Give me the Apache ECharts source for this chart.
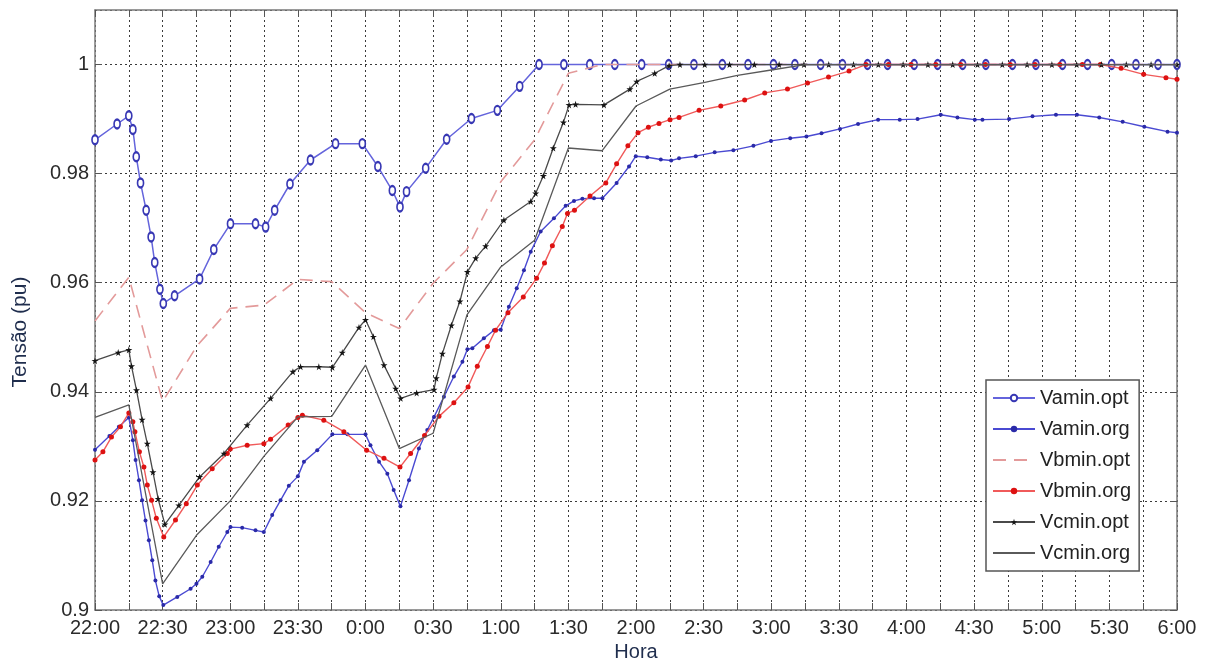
<!DOCTYPE html>
<html>
<head>
<meta charset="utf-8">
<script src="https://cdn.jsdelivr.net/npm/echarts@6/dist/echarts.min.js"></script>
<style>
html,body{margin:0;padding:0;background:#fff;}
#chart{width:1208px;height:658px;}
</style>
</head>
<body>
<div id="chart"></div>
<script>
// time in minutes after 22:00, value in pu
const xTickLabels = ['22:00','22:30','23:00','23:30','0:00','0:30','1:00','1:30','2:00','2:30','3:00','3:30','4:00','4:30','5:00','5:30','6:00'];
const seriesNames = ['Vamin.opt','Vamin.org','Vbmin.opt','Vbmin.org','Vcmin.opt','Vcmin.org'];

const vaminOpt = [[0,0.9862],[9.8,0.9891],[15,0.9906],[16.8,0.9881],[18.3,0.9831],[20.2,0.9783],[22.7,0.9733],[24.9,0.9684],[26.5,0.9637],[28.8,0.9588],[30.3,0.9562],[35.3,0.9576],[46.4,0.9607],[52.7,0.9661],[60.1,0.9708],[71.2,0.9708],[75.7,0.9702],[79.7,0.9733],[86.5,0.9781],[95.6,0.9825],[106.7,0.9855],[118.6,0.9855],[125.5,0.9813],[131.9,0.9769],[135.3,0.9739],[138.2,0.9767],[146.7,0.981],[156,0.9863],[167,0.9901],[178.5,0.9916],[188.4,0.996],[197,1.0],[208,1.0],[219.5,1.0],[230.6,1.0],[242.5,1.0],[254.5,1.0],[265.7,1.0],[278.3,1.0],[289.7,1.0],[301,1.0],[310.5,1.0],[321.9,1.0],[331.6,1.0],[342.7,1.0],[351.6,1.0],[363.4,1.0],[373.8,1.0],[384.9,1.0],[395.2,1.0],[407,1.0],[417.4,1.0],[429.2,1.0],[440.3,1.0],[451,1.0],[461.8,1.0],[471.6,1.0],[480,1.0]];

const vaminOrg = [[0,0.9294],[6.4,0.9319],[10.6,0.9336],[15,0.9353],[16.8,0.9311],[18,0.9275],[19.5,0.9238],[20.9,0.9201],[22.4,0.9164],[23.9,0.9128],[25.4,0.9091],[26.8,0.9054],[28.5,0.9025],[30.3,0.9009],[36.5,0.9024],[42.4,0.9039],[45,0.9048],[47.6,0.9061],[51.3,0.9088],[54.9,0.9116],[58.7,0.9143],[60.1,0.9152],[65.3,0.9151],[71.2,0.9146],[74.9,0.9143],[78.6,0.9174],[82.3,0.9201],[86,0.9228],[90,0.9245],[92.7,0.9272],[98.6,0.9293],[105.3,0.9322],[112,0.9322],[120,0.9322],[122.2,0.9302],[126,0.9272],[129.7,0.925],[132.5,0.922],[135.5,0.919],[139.3,0.9238],[143.7,0.9296],[147.4,0.933],[150.4,0.9354],[154.8,0.9391],[159.2,0.9428],[163,0.9455],[165.2,0.9478],[167.4,0.948],[172.5,0.9498],[177,0.9513],[180,0.9514],[183.6,0.9556],[187.1,0.959],[190.3,0.9623],[193.3,0.9657],[197.7,0.9694],[203.6,0.9718],[208.8,0.9741],[212.5,0.975],[216.2,0.9754],[221.4,0.9755],[225.1,0.9755],[231.4,0.9783],[236.9,0.9813],[239.9,0.9832],[245,0.983],[251,0.9826],[255.6,0.9824],[259.1,0.9828],[266.5,0.9832],[274.9,0.9839],[283.2,0.9843],[292.1,0.9851],[299.9,0.986],[308.4,0.9865],[315.6,0.9868],[322.3,0.9874],[330.5,0.9882],[338.5,0.9891],[347.4,0.9899],[357,0.9899],[364.9,0.99],[375.2,0.9908],[382.6,0.9903],[390.3,0.9899],[393.7,0.9899],[405.5,0.99],[415.9,0.9905],[426.3,0.9908],[435.6,0.9908],[445.5,0.9903],[455.9,0.9895],[465.5,0.9886],[475.8,0.9877],[480,0.9875]];

const vbminOpt = [[0,0.953],[15,0.961],[30,0.9382],[45,0.9483],[60,0.9553],[75,0.9559],[90,0.9606],[105,0.9602],[120,0.9545],[135,0.9516],[150,0.9599],[165,0.9661],[180,0.9785],[195,0.9862],[210,0.9984],[225,1.0],[480,1.0]];

const vbminOrg = [[0,0.9275],[3.5,0.929],[7.3,0.9317],[11.3,0.9336],[15,0.9361],[16.8,0.9345],[17.7,0.9327],[19.7,0.929],[21.7,0.9262],[23.2,0.9229],[25.1,0.9201],[27.2,0.9168],[30.5,0.9134],[35.7,0.9165],[40.5,0.9195],[45.4,0.9229],[52,0.9259],[58.7,0.9287],[60,0.9295],[67.5,0.9302],[74.9,0.9305],[77.9,0.9313],[85.7,0.9339],[90,0.9353],[92,0.9357],[101.5,0.9348],[110.4,0.9327],[120.5,0.9293],[128.2,0.9278],[135.3,0.9262],[140,0.9287],[146.2,0.932],[152.6,0.9355],[159.2,0.938],[165.5,0.9409],[169.6,0.9447],[174.1,0.9483],[177.7,0.9513],[183.2,0.9545],[190,0.9574],[195.9,0.9608],[199.4,0.9636],[202.9,0.9668],[207.3,0.9703],[209.6,0.9727],[212.7,0.9733],[219.6,0.9759],[226.6,0.9783],[231.4,0.9818],[236.4,0.9851],[240.9,0.9875],[245.5,0.9885],[250.2,0.9892],[255.1,0.9899],[259.1,0.9903],[268,0.9916],[277.6,0.9924],[288.2,0.9935],[297.1,0.9948],[307.2,0.9955],[316.1,0.9966],[325.4,0.9977],[334.5,0.9988],[342,1.0],[352,1.0],[362,1.0],[373,1.0],[384,1.0],[395,1.0],[406,1.0],[417,1.0],[428,1.0],[438,1.0],[446,1.0],[455.2,0.9993],[465.2,0.9982],[475.1,0.9976],[480,0.9973]];

const vcminOpt = [[0,0.9457],[10.3,0.9472],[15,0.9477],[16.2,0.9447],[18.4,0.9403],[20.9,0.9349],[23.2,0.9305],[25.7,0.9253],[28,0.9204],[31,0.9157],[37.2,0.9192],[46.4,0.9244],[57.2,0.9287],[67.5,0.9339],[77.9,0.9388],[87.8,0.9437],[91.2,0.9446],[99.3,0.9446],[105.3,0.9445],[109.7,0.9472],[117.1,0.9518],[120,0.9532],[123.5,0.9501],[128.2,0.9449],[133.4,0.9406],[135.6,0.9388],[142.7,0.9398],[150.4,0.9404],[151.4,0.9425],[154.1,0.947],[158.1,0.9522],[161.9,0.9566],[165.2,0.962],[168.9,0.9645],[173.3,0.9667],[181.4,0.9715],[193.3,0.9749],[195.5,0.9764],[198.9,0.9796],[203.3,0.9847],[207.8,0.9894],[210.3,0.9926],[213.2,0.9927],[225.8,0.9926],[237.3,0.9955],[240.3,0.9969],[248.3,0.9984],[254.7,0.9998],[259.5,1.0],[270.5,1.0],[281.5,1.0],[292.5,1.0],[303.5,1.0],[314.5,1.0],[325.5,1.0],[336.5,1.0],[347.5,1.0],[358.5,1.0],[369.5,1.0],[380.5,1.0],[391.5,1.0],[402.5,1.0],[413.5,1.0],[424.5,1.0],[435.5,1.0],[446.5,1.0],[457.5,1.0],[468.5,1.0],[480,1.0]];

const vcminOrg = [[0,0.9353],[15,0.9376],[30,0.9048],[45,0.9137],[60,0.92],[75,0.9282],[90,0.9354],[105,0.9355],[120,0.9449],[135,0.9296],[150,0.9324],[165,0.9541],[180,0.9629],[195,0.9678],[210,0.9847],[225,0.9842],[240,0.9924],[255,0.9955],[270,0.9967],[285,0.998],[300,0.999],[315,1.0],[480,1.0]];

const FONT = '"Liberation Sans", Arial, sans-serif';
const STAR = 'path://M50,0 L61,35 L98,35 L68,57 L79,91 L50,70 L21,91 L32,57 L2,35 L39,35 Z';
const gridDot = {color:'#3a3a3a', width:1, type:[2,3]};

const chart = echarts.init(document.getElementById('chart'), null, {renderer:'canvas'});
const xCommon = {type:'value', min:0, max:480, interval:15};
const yCommon = {type:'value', min:0.9, max:1.01, interval:0.02};

chart.setOption({
  animation:false,
  backgroundColor:'#fff',
  grid:{left:95, right:31, top:10, bottom:48, containLabel:false, outerBoundsMode:'none'},
  xAxis:[
    Object.assign({}, xCommon, {
      position:'bottom',
      name:'Hora', nameLocation:'middle', nameGap:27,
      nameTextStyle:{fontFamily:FONT, fontSize:20, color:'#1f2d4d'},
      axisLine:{show:true, onZero:false, lineStyle:{color:'#7a7a7a', width:1.5}},
      axisTick:{show:true, inside:true, length:7, lineStyle:{color:'#555'}},
      axisLabel:{fontFamily:FONT, fontSize:20, color:'#2b2b2b', margin:8,
        formatter:function(v){ const k=Math.round(v); return k%30===0 ? xTickLabels[k/30] : ''; }},
      splitLine:{show:true, lineStyle:gridDot}
    }),
    Object.assign({}, xCommon, {
      position:'top',
      axisLine:{show:true, onZero:false, lineStyle:{color:'#7a7a7a', width:1.5}},
      axisTick:{show:true, inside:true, length:7, lineStyle:{color:'#555'}},
      axisLabel:{show:false}, splitLine:{show:false}
    })
  ],
  yAxis:[
    Object.assign({}, yCommon, {
      position:'left',
      name:'Tensão (pu)', nameLocation:'middle', nameGap:64, nameRotate:90,
      nameTextStyle:{fontFamily:FONT, fontSize:21, color:'#1f2d4d', padding:[0,44,0,0]},
      axisLine:{show:true, onZero:false, lineStyle:{color:'#7a7a7a', width:1.5}},
      axisTick:{show:true, inside:true, length:7, lineStyle:{color:'#555'}},
      axisLabel:{fontFamily:FONT, fontSize:20, color:'#2b2b2b', margin:6, showMaxLabel:false,
        formatter:function(v){ return String(+v.toFixed(2)); }},
      splitLine:{show:true, lineStyle:gridDot}
    }),
    Object.assign({}, yCommon, {
      position:'right',
      axisLine:{show:true, onZero:false, lineStyle:{color:'#7a7a7a', width:1.5}},
      axisTick:{show:true, inside:true, length:7, lineStyle:{color:'#555'}},
      axisLabel:{show:false}, splitLine:{show:false}
    })
  ],
  legend:{
    orient:'vertical', left:986, top:380,
    backgroundColor:'#fff', borderColor:'#555', borderWidth:1.5, borderRadius:0,
    padding:[8,8,8,6], itemGap:11, itemWidth:42, itemHeight:8,
    textStyle:{fontFamily:FONT, fontSize:20, color:'#222'},
    data:[
      {name:seriesNames[0]},
      {name:seriesNames[1]},
      {name:seriesNames[2], itemStyle:{opacity:0}},
      {name:seriesNames[3]},
      {name:seriesNames[4]},
      {name:seriesNames[5], itemStyle:{opacity:0}}
    ]
  },
  series:[
    {name:seriesNames[0], type:'line', data:vaminOpt, symbol:'emptyCircle', symbolSize:[6,9],
      lineStyle:{color:'#6464dc', width:1.5},
      itemStyle:{color:'#3838b4', borderColor:'#3838b4', borderWidth:1.8}, z:2},
    {name:seriesNames[1], type:'line', data:vaminOrg, symbol:'circle', symbolSize:4,
      lineStyle:{color:'#4a4ad2', width:1.4},
      itemStyle:{color:'#2a2aa8'}, z:3},
    {name:seriesNames[2], type:'line', data:vbminOpt, symbol:'none',
      lineStyle:{color:'#e39a9a', width:1.6, type:[13,8]},
      itemStyle:{color:'#e39a9a'}, z:4},
    {name:seriesNames[3], type:'line', data:vbminOrg, symbol:'circle', symbolSize:5,
      lineStyle:{color:'#f05a5a', width:1.4},
      itemStyle:{color:'#dd1111'}, z:5},
    {name:seriesNames[4], type:'line', data:vcminOpt, symbol:STAR, symbolSize:7,
      lineStyle:{color:'#4a4a4a', width:1.3},
      itemStyle:{color:'#151515'}, z:6},
    {name:seriesNames[5], type:'line', data:vcminOrg, symbol:'none',
      lineStyle:{color:'#5a5a5a', width:1.3},
      itemStyle:{color:'#5a5a5a'}, z:7}
  ]
});
</script>
</body>
</html>
